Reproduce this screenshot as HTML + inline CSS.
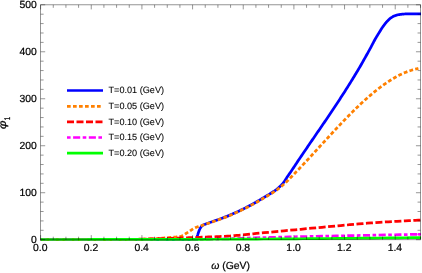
<!DOCTYPE html>
<html><head><meta charset="utf-8"><title>plot</title>
<style>html,body{margin:0;padding:0;background:#fff;}body{width:422px;height:273px;overflow:hidden;position:relative;font-family:"Liberation Sans",sans-serif;}</style>
</head><body>
<svg width="422" height="273" viewBox="0 0 422 273" style="position:absolute;left:0;top:0;will-change:transform">
<defs><clipPath id="cp"><rect x="40" y="0" width="380.9" height="273"/></clipPath></defs>
<g fill="none" stroke-linejoin="round" stroke-width="2.75" clip-path="url(#cp)">
<path d="M40.60 239.50 L44.47 239.50 L49.35 239.50 L55.09 239.50 L61.53 239.50 L68.53 239.50 L75.92 239.50 L83.56 239.50 L91.29 239.50 L98.95 239.50 L106.39 239.50 L113.46 239.50 L120.00 239.50 L126.37 239.50 L132.96 239.50 L139.68 239.50 L146.42 239.50 L153.10 239.51 L159.62 239.51 L165.89 239.51 L171.80 239.51 L177.26 239.51 L182.18 239.51 L186.46 239.50 L190.00 239.50 L192.73 239.50 L194.69 239.50 L195.99 239.51 L196.74 239.51 L197.05 239.52 L197.01 239.53 L196.73 239.52 L196.31 239.52 L195.87 239.50 L195.50 239.48 L195.31 239.45 L195.40 239.40 L195.64 239.34 L195.83 239.28 L195.98 239.21 L196.09 239.14 L196.17 239.06 L196.23 238.97 L196.27 238.87 L196.30 238.76 L196.33 238.64 L196.37 238.51 L196.43 238.36 L196.50 238.20 L196.59 238.03 L196.67 237.84 L196.75 237.63 L196.83 237.41 L196.91 237.19 L196.99 236.95 L197.07 236.70 L197.16 236.45 L197.24 236.19 L197.32 235.93 L197.41 235.67 L197.50 235.40 L197.59 235.13 L197.69 234.84 L197.78 234.55 L197.88 234.25 L197.98 233.94 L198.08 233.63 L198.18 233.32 L198.28 233.01 L198.38 232.70 L198.49 232.39 L198.59 232.09 L198.70 231.80 L198.81 231.51 L198.92 231.22 L199.03 230.93 L199.15 230.64 L199.26 230.35 L199.38 230.06 L199.50 229.78 L199.62 229.51 L199.74 229.24 L199.86 228.98 L199.98 228.74 L200.10 228.50 L200.22 228.28 L200.34 228.06 L200.47 227.85 L200.59 227.65 L200.71 227.46 L200.84 227.28 L200.96 227.10 L201.09 226.93 L201.22 226.76 L201.34 226.60 L201.47 226.45 L201.60 226.30 L201.73 226.16 L201.86 226.02 L201.99 225.90 L202.12 225.78 L202.25 225.66 L202.38 225.56 L202.51 225.45 L202.65 225.36 L202.78 225.26 L202.92 225.17 L203.06 225.08 L203.20 225.00 L203.34 224.92 L203.47 224.85 L203.61 224.79 L203.74 224.74 L203.88 224.69 L204.01 224.64 L204.15 224.59 L204.30 224.54 L204.46 224.49 L204.63 224.43 L204.81 224.37 L205.00 224.30 L205.15 224.24 L205.21 224.22 L205.22 224.22 L205.21 224.22 L205.20 224.22 L205.24 224.21 L205.34 224.17 L205.55 224.10 L205.89 223.98 L206.39 223.79 L207.08 223.54 L208.00 223.20 L209.17 222.77 L210.59 222.27 L212.21 221.70 L214.00 221.07 L215.92 220.40 L217.94 219.68 L220.01 218.94 L222.11 218.17 L224.20 217.39 L226.23 216.62 L228.18 215.85 L230.00 215.10 L231.75 214.35 L233.51 213.57 L235.26 212.78 L237.01 211.97 L238.74 211.15 L240.46 210.33 L242.14 209.50 L243.80 208.67 L245.42 207.86 L247.00 207.05 L248.53 206.27 L250.00 205.50 L251.42 204.75 L252.81 204.00 L254.15 203.25 L255.46 202.51 L256.72 201.77 L257.96 201.05 L259.16 200.34 L260.32 199.64 L261.46 198.95 L262.57 198.28 L263.65 197.63 L264.70 197.00 L265.73 196.39 L266.73 195.79 L267.71 195.20 L268.66 194.63 L269.57 194.07 L270.46 193.53 L271.31 193.00 L272.12 192.49 L272.90 192.00 L273.64 191.52 L274.34 191.05 L275.00 190.60 L275.61 190.17 L276.16 189.77 L276.66 189.39 L277.11 189.02 L277.54 188.67 L277.93 188.34 L278.29 188.01 L278.64 187.69 L278.98 187.37 L279.31 187.05 L279.65 186.73 L280.00 186.40 L280.35 186.07 L280.67 185.76 L280.99 185.45 L281.29 185.14 L281.58 184.84 L281.86 184.54 L282.14 184.23 L282.41 183.93 L282.68 183.61 L282.95 183.29 L283.22 182.95 L283.50 182.60 L283.76 182.25 L284.00 181.93 L284.22 181.61 L284.44 181.30 L284.65 180.97 L284.86 180.64 L285.09 180.28 L285.34 179.88 L285.62 179.45 L285.93 178.96 L286.29 178.41 L286.70 177.80 L287.17 177.10 L287.69 176.33 L288.27 175.48 L288.88 174.58 L289.52 173.63 L290.17 172.66 L290.84 171.68 L291.51 170.69 L292.17 169.71 L292.81 168.77 L293.42 167.86 L294.00 167.00 L294.53 166.21 L295.03 165.46 L295.50 164.76 L295.95 164.08 L296.39 163.41 L296.83 162.74 L297.28 162.06 L297.75 161.36 L298.25 160.61 L298.78 159.81 L299.36 158.94 L300.00 158.00 L300.69 156.97 L301.44 155.88 L302.22 154.72 L303.04 153.52 L303.88 152.27 L304.75 151.00 L305.63 149.71 L306.52 148.40 L307.41 147.10 L308.29 145.81 L309.15 144.54 L310.00 143.30 L310.83 142.08 L311.67 140.86 L312.50 139.65 L313.33 138.43 L314.17 137.21 L315.00 136.00 L315.83 134.79 L316.67 133.57 L317.50 132.35 L318.33 131.14 L319.17 129.92 L320.00 128.70 L320.83 127.48 L321.67 126.26 L322.50 125.04 L323.33 123.82 L324.17 122.60 L325.00 121.38 L325.83 120.16 L326.67 118.93 L327.50 117.71 L328.33 116.47 L329.17 115.24 L330.00 114.00 L330.83 112.76 L331.67 111.51 L332.50 110.27 L333.33 109.02 L334.17 107.77 L335.00 106.51 L335.83 105.25 L336.67 103.99 L337.50 102.73 L338.33 101.46 L339.17 100.18 L340.00 98.90 L340.83 97.62 L341.67 96.33 L342.50 95.04 L343.33 93.74 L344.17 92.44 L345.00 91.14 L345.83 89.83 L346.67 88.51 L347.50 87.20 L348.33 85.87 L349.17 84.54 L350.00 83.20 L350.83 81.86 L351.67 80.51 L352.50 79.16 L353.33 77.81 L354.17 76.45 L355.00 75.08 L355.83 73.71 L356.67 72.33 L357.50 70.94 L358.33 69.53 L359.17 68.12 L360.00 66.70 L360.85 65.24 L361.72 63.71 L362.62 62.14 L363.52 60.55 L364.42 58.95 L365.31 57.36 L366.19 55.79 L367.04 54.26 L367.85 52.79 L368.62 51.40 L369.34 50.09 L370.00 48.90 L370.59 47.82 L371.11 46.85 L371.58 45.97 L372.00 45.16 L372.39 44.41 L372.75 43.71 L373.10 43.03 L373.44 42.36 L373.80 41.69 L374.17 41.00 L374.56 40.27 L375.00 39.50 L375.47 38.68 L375.98 37.82 L376.50 36.93 L377.04 36.03 L377.58 35.13 L378.12 34.24 L378.66 33.36 L379.19 32.51 L379.69 31.70 L380.16 30.94 L380.60 30.23 L381.00 29.60 L381.36 29.04 L381.67 28.54 L381.96 28.09 L382.23 27.70 L382.47 27.34 L382.69 27.01 L382.91 26.70 L383.12 26.40 L383.33 26.11 L383.54 25.82 L383.76 25.52 L384.00 25.20 L384.24 24.87 L384.47 24.56 L384.70 24.25 L384.92 23.96 L385.14 23.66 L385.36 23.38 L385.59 23.09 L385.83 22.80 L386.07 22.51 L386.33 22.21 L386.61 21.91 L386.90 21.60 L387.21 21.28 L387.53 20.94 L387.86 20.60 L388.20 20.24 L388.56 19.89 L388.92 19.54 L389.29 19.19 L389.67 18.84 L390.07 18.51 L390.47 18.19 L390.88 17.89 L391.30 17.60 L391.73 17.33 L392.17 17.07 L392.61 16.81 L393.07 16.57 L393.54 16.34 L394.01 16.11 L394.50 15.90 L395.00 15.70 L395.50 15.50 L396.02 15.32 L396.56 15.16 L397.10 15.00 L397.66 14.86 L398.24 14.73 L398.84 14.62 L399.44 14.52 L400.06 14.43 L400.69 14.35 L401.33 14.28 L401.97 14.21 L402.61 14.16 L403.24 14.10 L403.87 14.05 L404.50 14.00 L405.11 13.95 L405.72 13.92 L406.31 13.89 L406.90 13.87 L407.49 13.85 L408.09 13.84 L408.69 13.83 L409.31 13.82 L409.95 13.82 L410.60 13.81 L411.29 13.81 L412.00 13.80 L412.78 13.79 L413.64 13.79 L414.56 13.79 L415.52 13.79 L416.50 13.79 L417.47 13.79 L418.42 13.79 L419.31 13.79 L420.14 13.80 L420.88 13.80 L421.51 13.80 L422.00 13.80" stroke="#0000ff"/>
<path d="M40.60 239.50 L44.87 239.50 L50.47 239.51 L57.16 239.51 L64.68 239.52 L72.79 239.53 L81.24 239.54 L89.77 239.54 L98.14 239.54 L106.10 239.54 L113.39 239.53 L119.78 239.52 L125.00 239.50 L129.21 239.47 L132.78 239.43 L135.78 239.39 L138.29 239.34 L140.39 239.29 L142.15 239.24 L143.65 239.18 L144.98 239.12 L146.20 239.06 L147.39 239.01 L148.63 238.95 L150.00 238.90 L151.36 238.85 L152.56 238.80 L153.60 238.75 L154.52 238.70 L155.33 238.66 L156.06 238.61 L156.73 238.56 L157.37 238.51 L157.99 238.46 L158.62 238.41 L159.28 238.35 L160.00 238.30 L160.74 238.24 L161.45 238.19 L162.14 238.13 L162.81 238.07 L163.48 238.01 L164.12 237.95 L164.77 237.89 L165.41 237.83 L166.05 237.77 L166.69 237.71 L167.34 237.66 L168.00 237.60 L168.67 237.55 L169.36 237.50 L170.06 237.45 L170.76 237.41 L171.45 237.36 L172.15 237.32 L172.84 237.27 L173.51 237.23 L174.17 237.18 L174.81 237.12 L175.42 237.06 L176.00 237.00 L176.55 236.94 L177.06 236.89 L177.55 236.85 L178.01 236.80 L178.45 236.76 L178.89 236.71 L179.32 236.64 L179.75 236.56 L180.19 236.46 L180.64 236.34 L181.11 236.19 L181.60 236.00 L182.11 235.78 L182.64 235.52 L183.18 235.24 L183.73 234.93 L184.28 234.60 L184.84 234.25 L185.40 233.89 L185.96 233.53 L186.53 233.16 L187.09 232.80 L187.65 232.44 L188.20 232.10 L188.75 231.75 L189.30 231.40 L189.85 231.03 L190.40 230.65 L190.94 230.28 L191.49 229.90 L192.04 229.53 L192.59 229.17 L193.14 228.82 L193.69 228.49 L194.25 228.18 L194.80 227.90 L195.36 227.64 L195.91 227.41 L196.47 227.19 L197.03 226.99 L197.59 226.80 L198.16 226.63 L198.72 226.46 L199.28 226.29 L199.84 226.12 L200.39 225.96 L200.95 225.78 L201.50 225.60 L202.00 225.43 L202.42 225.29 L202.78 225.18 L203.11 225.07 L203.44 224.97 L203.79 224.86 L204.20 224.72 L204.69 224.56 L205.29 224.36 L206.02 224.10 L206.92 223.79 L208.00 223.40 L209.30 222.94 L210.79 222.42 L212.46 221.84 L214.26 221.22 L216.17 220.55 L218.16 219.86 L220.19 219.13 L222.24 218.39 L224.28 217.64 L226.27 216.89 L228.19 216.14 L230.00 215.40 L231.75 214.66 L233.51 213.89 L235.26 213.10 L237.01 212.30 L238.74 211.49 L240.46 210.67 L242.14 209.86 L243.80 209.04 L245.42 208.23 L247.00 207.44 L248.53 206.66 L250.00 205.90 L251.42 205.15 L252.81 204.41 L254.15 203.67 L255.46 202.94 L256.72 202.22 L257.96 201.50 L259.16 200.80 L260.32 200.10 L261.46 199.43 L262.57 198.77 L263.65 198.12 L264.70 197.50 L265.73 196.89 L266.73 196.30 L267.71 195.72 L268.66 195.15 L269.57 194.59 L270.46 194.06 L271.31 193.53 L272.12 193.03 L272.90 192.54 L273.64 192.08 L274.34 191.63 L275.00 191.20 L275.60 190.80 L276.14 190.44 L276.62 190.11 L277.06 189.80 L277.46 189.50 L277.83 189.22 L278.19 188.95 L278.53 188.68 L278.87 188.41 L279.23 188.12 L279.60 187.82 L280.00 187.50 L280.42 187.16 L280.83 186.83 L281.25 186.48 L281.67 186.13 L282.08 185.78 L282.50 185.42 L282.92 185.06 L283.33 184.70 L283.75 184.33 L284.17 183.96 L284.58 183.58 L285.00 183.20 L285.41 182.82 L285.82 182.43 L286.23 182.05 L286.63 181.66 L287.03 181.27 L287.44 180.87 L287.85 180.47 L288.26 180.06 L288.68 179.64 L289.11 179.20 L289.55 178.76 L290.00 178.30 L290.47 177.82 L290.97 177.31 L291.48 176.77 L292.00 176.22 L292.53 175.66 L293.06 175.10 L293.59 174.54 L294.11 173.99 L294.62 173.45 L295.10 172.94 L295.57 172.45 L296.00 172.00 L296.38 171.60 L296.71 171.27 L297.00 170.97 L297.26 170.71 L297.50 170.47 L297.75 170.22 L298.01 169.96 L298.30 169.67 L298.62 169.34 L299.01 168.94 L299.46 168.47 L300.00 167.90 L300.62 167.24 L301.32 166.50 L302.08 165.69 L302.89 164.83 L303.74 163.92 L304.62 162.97 L305.53 162.01 L306.44 161.03 L307.36 160.04 L308.26 159.07 L309.15 158.12 L310.00 157.20 L310.83 156.30 L311.67 155.39 L312.50 154.49 L313.33 153.58 L314.17 152.67 L315.00 151.76 L315.83 150.85 L316.67 149.94 L317.50 149.03 L318.33 148.12 L319.17 147.21 L320.00 146.30 L320.83 145.39 L321.67 144.48 L322.50 143.57 L323.33 142.66 L324.17 141.75 L325.00 140.84 L325.83 139.93 L326.67 139.02 L327.50 138.11 L328.33 137.21 L329.17 136.30 L330.00 135.40 L330.83 134.50 L331.67 133.60 L332.50 132.70 L333.33 131.80 L334.17 130.91 L335.00 130.01 L335.83 129.12 L336.67 128.23 L337.50 127.34 L338.33 126.46 L339.17 125.58 L340.00 124.70 L340.83 123.83 L341.67 122.95 L342.50 122.09 L343.33 121.22 L344.17 120.35 L345.00 119.49 L345.83 118.64 L346.67 117.78 L347.50 116.93 L348.33 116.08 L349.17 115.24 L350.00 114.40 L350.83 113.56 L351.67 112.73 L352.50 111.90 L353.33 111.07 L354.17 110.24 L355.00 109.42 L355.83 108.60 L356.67 107.79 L357.50 106.98 L358.33 106.18 L359.17 105.39 L360.00 104.60 L360.83 103.82 L361.67 103.04 L362.50 102.27 L363.33 101.51 L364.17 100.75 L365.00 99.99 L365.83 99.25 L366.67 98.50 L367.50 97.77 L368.33 97.04 L369.17 96.32 L370.00 95.60 L370.83 94.89 L371.67 94.19 L372.50 93.49 L373.33 92.79 L374.17 92.11 L375.00 91.42 L375.83 90.75 L376.67 90.09 L377.50 89.43 L378.33 88.78 L379.17 88.13 L380.00 87.50 L380.83 86.87 L381.67 86.25 L382.50 85.64 L383.33 85.04 L384.17 84.44 L385.00 83.85 L385.83 83.27 L386.67 82.70 L387.50 82.13 L388.33 81.58 L389.17 81.03 L390.00 80.50 L390.83 79.97 L391.67 79.46 L392.50 78.95 L393.33 78.44 L394.17 77.95 L395.00 77.47 L395.83 77.00 L396.67 76.53 L397.50 76.08 L398.33 75.64 L399.17 75.21 L400.00 74.80 L400.84 74.40 L401.69 74.00 L402.54 73.62 L403.39 73.25 L404.25 72.89 L405.10 72.54 L405.95 72.20 L406.79 71.87 L407.61 71.56 L408.43 71.26 L409.22 70.97 L410.00 70.70 L410.78 70.44 L411.59 70.19 L412.41 69.94 L413.23 69.71 L414.04 69.50 L414.82 69.29 L415.58 69.10 L416.28 68.93 L416.93 68.77 L417.50 68.63 L418.00 68.51 L418.40 68.40" stroke="#ff8000" stroke-dasharray="3.8 2.2" stroke-dashoffset="-1"/>
<path d="M40.60 239.50 L44.59 239.50 L49.81 239.51 L56.03 239.51 L63.01 239.52 L70.56 239.53 L78.42 239.54 L86.40 239.54 L94.25 239.54 L101.76 239.54 L108.71 239.53 L114.86 239.52 L120.00 239.50 L124.26 239.47 L127.97 239.43 L131.21 239.39 L134.03 239.34 L136.51 239.29 L138.71 239.24 L140.71 239.18 L142.57 239.12 L144.36 239.06 L146.15 239.01 L148.01 238.95 L150.00 238.90 L152.02 238.85 L153.91 238.80 L155.70 238.75 L157.41 238.70 L159.04 238.65 L160.62 238.60 L162.17 238.55 L163.70 238.50 L165.23 238.45 L166.78 238.40 L168.37 238.35 L170.00 238.30 L171.70 238.25 L173.45 238.20 L175.23 238.15 L177.04 238.09 L178.84 238.04 L180.62 237.99 L182.38 237.94 L184.07 237.89 L185.70 237.84 L187.25 237.79 L188.68 237.74 L190.00 237.70 L191.12 237.66 L192.01 237.63 L192.73 237.61 L193.33 237.59 L193.86 237.56 L194.38 237.54 L194.92 237.52 L195.56 237.49 L196.33 237.46 L197.29 237.42 L198.50 237.36 L200.00 237.30 L201.80 237.23 L203.84 237.15 L206.09 237.08 L208.52 236.99 L211.08 236.90 L213.75 236.81 L216.49 236.70 L219.26 236.59 L222.03 236.46 L224.77 236.32 L227.44 236.17 L230.00 236.00 L232.40 235.82 L234.63 235.64 L236.75 235.46 L238.81 235.26 L240.88 235.05 L243.00 234.83 L245.23 234.59 L247.63 234.34 L250.25 234.07 L253.15 233.77 L256.38 233.45 L260.00 233.10 L264.07 232.71 L268.58 232.29 L273.45 231.83 L278.61 231.34 L284.00 230.83 L289.53 230.31 L295.15 229.79 L300.78 229.26 L306.35 228.74 L311.79 228.24 L317.03 227.75 L322.00 227.30 L326.78 226.86 L331.51 226.43 L336.17 226.00 L340.78 225.57 L345.32 225.15 L349.81 224.74 L354.24 224.35 L358.61 223.96 L362.92 223.59 L367.17 223.24 L371.37 222.91 L375.50 222.60 L379.68 222.31 L383.98 222.03 L388.34 221.76 L392.70 221.51 L397.00 221.28 L401.19 221.06 L405.19 220.86 L408.96 220.67 L412.44 220.50 L415.56 220.35 L418.27 220.22 L420.50 220.10 L422.20 220.01 L423.41 219.94 L424.17 219.90 L424.57 219.89 L424.68 219.88 L424.56 219.89 L424.29 219.91 L423.93 219.94 L423.55 219.96 L423.22 219.98 L423.01 220.00 L423.00 220.00" stroke="#ff0000" stroke-dasharray="7 2.5" stroke-dashoffset="-3"/>
<path d="M40.60 239.50 L48.62 239.49 L59.09 239.49 L71.57 239.50 L85.61 239.50 L100.75 239.50 L116.55 239.50 L132.56 239.49 L148.33 239.48 L163.40 239.45 L177.34 239.42 L189.69 239.37 L200.00 239.30 L208.47 239.22 L215.73 239.11 L221.94 239.00 L227.29 238.87 L231.95 238.73 L236.09 238.58 L239.89 238.43 L243.53 238.28 L247.19 238.13 L251.03 237.98 L255.25 237.83 L260.00 237.70 L265.01 237.57 L269.92 237.45 L274.75 237.32 L279.56 237.20 L284.38 237.08 L289.25 236.96 L294.22 236.83 L299.33 236.71 L304.62 236.59 L310.14 236.46 L315.92 236.33 L322.00 236.20 L328.67 236.06 L336.08 235.91 L344.02 235.75 L352.33 235.59 L360.82 235.43 L369.31 235.27 L377.62 235.11 L385.56 234.96 L392.95 234.82 L399.60 234.70 L405.35 234.59 L410.00 234.50 L413.54 234.43 L416.18 234.38 L418.02 234.34 L419.19 234.31 L419.81 234.30 L420.00 234.29 L419.89 234.29 L419.59 234.30 L419.23 234.30 L418.94 234.30 L418.82 234.30 L419.00 234.30" stroke="#ff00ff" stroke-dasharray="3.6 2.5 7.1 2.5" stroke-dashoffset="-2.3"/>
<path d="M40.60 239.50 L46.46 239.50 L53.93 239.49 L62.74 239.49 L72.64 239.48 L83.37 239.48 L94.68 239.47 L106.29 239.46 L117.96 239.45 L129.42 239.44 L140.42 239.43 L150.70 239.42 L160.00 239.40 L168.56 239.38 L176.82 239.37 L184.80 239.35 L192.55 239.33 L200.09 239.30 L207.46 239.28 L214.70 239.26 L221.83 239.23 L228.89 239.20 L235.92 239.17 L242.94 239.14 L250.00 239.10 L256.98 239.06 L263.77 239.02 L270.42 238.98 L276.96 238.93 L283.43 238.89 L289.88 238.84 L296.32 238.79 L302.81 238.73 L309.39 238.68 L316.09 238.62 L322.95 238.56 L330.00 238.50 L337.54 238.43 L345.70 238.36 L354.31 238.28 L363.19 238.19 L372.14 238.10 L381.00 238.01 L389.58 237.93 L397.70 237.84 L405.19 237.77 L411.85 237.70 L417.52 237.64 L422.00 237.60" stroke="#00ff00" stroke-width="2.7"/>
</g>
<g stroke="#000" stroke-opacity="0.52" stroke-width="0.8" fill="none">
<rect x="40.60" y="4.80" width="379.95" height="234.90"/>
<path d="M40.60 239.70v-4.6M40.60 4.80v4.6M53.27 239.70v-3.0M53.27 4.80v3.0M65.93 239.70v-3.0M65.93 4.80v3.0M78.59 239.70v-3.0M78.59 4.80v3.0M91.26 239.70v-4.6M91.26 4.80v4.6M103.92 239.70v-3.0M103.92 4.80v3.0M116.59 239.70v-3.0M116.59 4.80v3.0M129.25 239.70v-3.0M129.25 4.80v3.0M141.92 239.70v-4.6M141.92 4.80v4.6M154.59 239.70v-3.0M154.59 4.80v3.0M167.25 239.70v-3.0M167.25 4.80v3.0M179.91 239.70v-3.0M179.91 4.80v3.0M192.58 239.70v-4.6M192.58 4.80v4.6M205.24 239.70v-3.0M205.24 4.80v3.0M217.91 239.70v-3.0M217.91 4.80v3.0M230.57 239.70v-3.0M230.57 4.80v3.0M243.24 239.70v-4.6M243.24 4.80v4.6M255.91 239.70v-3.0M255.91 4.80v3.0M268.57 239.70v-3.0M268.57 4.80v3.0M281.24 239.70v-3.0M281.24 4.80v3.0M293.90 239.70v-4.6M293.90 4.80v4.6M306.56 239.70v-3.0M306.56 4.80v3.0M319.23 239.70v-3.0M319.23 4.80v3.0M331.90 239.70v-3.0M331.90 4.80v3.0M344.56 239.70v-4.6M344.56 4.80v4.6M357.23 239.70v-3.0M357.23 4.80v3.0M369.89 239.70v-3.0M369.89 4.80v3.0M382.56 239.70v-3.0M382.56 4.80v3.0M395.22 239.70v-4.6M395.22 4.80v4.6M407.89 239.70v-3.0M407.89 4.80v3.0M420.55 239.70v-3.0M420.55 4.80v3.0M40.60 239.70h4.6M420.55 239.70h-4.6M40.60 230.30h3.0M420.55 230.30h-3.0M40.60 220.91h3.0M420.55 220.91h-3.0M40.60 211.51h3.0M420.55 211.51h-3.0M40.60 202.12h3.0M420.55 202.12h-3.0M40.60 192.72h4.6M420.55 192.72h-4.6M40.60 183.32h3.0M420.55 183.32h-3.0M40.60 173.93h3.0M420.55 173.93h-3.0M40.60 164.53h3.0M420.55 164.53h-3.0M40.60 155.14h3.0M420.55 155.14h-3.0M40.60 145.74h4.6M420.55 145.74h-4.6M40.60 136.34h3.0M420.55 136.34h-3.0M40.60 126.95h3.0M420.55 126.95h-3.0M40.60 117.55h3.0M420.55 117.55h-3.0M40.60 108.16h3.0M420.55 108.16h-3.0M40.60 98.76h4.6M420.55 98.76h-4.6M40.60 89.36h3.0M420.55 89.36h-3.0M40.60 79.97h3.0M420.55 79.97h-3.0M40.60 70.57h3.0M420.55 70.57h-3.0M40.60 61.18h3.0M420.55 61.18h-3.0M40.60 51.78h4.6M420.55 51.78h-4.6M40.60 42.38h3.0M420.55 42.38h-3.0M40.60 32.99h3.0M420.55 32.99h-3.0M40.60 23.59h3.0M420.55 23.59h-3.0M40.60 14.20h3.0M420.55 14.20h-3.0M40.60 4.80h4.6M420.55 4.80h-4.6"/>
</g>
<g fill="none" stroke-width="2.7">
<path d="M67 90.5H103" stroke="#0000ff"/>
<path d="M67 106.3H103" stroke="#ff8000" stroke-dasharray="3.7 2.3"/>
<path d="M67 121.9H103" stroke="#ff0000" stroke-dasharray="7 2.5"/>
<path d="M67 137.5H103" stroke="#ff00ff" stroke-dasharray="3.6 2.5 7.1 2.5"/>
<path d="M67 153.05H103" stroke="#00ff00"/>
</g>
<g font-family="Liberation Sans, sans-serif" fill="#000" text-rendering="geometricPrecision" stroke="#000" stroke-width="0.22">
<text x="108.5" y="93.40" font-size="9.15" stroke-width="0.08">T=0.01 (GeV)</text>
<text x="108.5" y="109.20" font-size="9.15" stroke-width="0.08">T=0.05 (GeV)</text>
<text x="108.5" y="124.80" font-size="9.15" stroke-width="0.08">T=0.10 (GeV)</text>
<text x="108.5" y="140.40" font-size="9.15" stroke-width="0.08">T=0.15 (GeV)</text>
<text x="108.5" y="155.95" font-size="9.15" stroke-width="0.08">T=0.20 (GeV)</text>
<text x="36.8" y="242.70" font-size="10.4" text-anchor="end">0</text>
<text x="36.8" y="195.72" font-size="10.4" text-anchor="end">100</text>
<text x="36.8" y="148.74" font-size="10.4" text-anchor="end">200</text>
<text x="36.8" y="101.76" font-size="10.4" text-anchor="end">300</text>
<text x="36.8" y="54.78" font-size="10.4" text-anchor="end">400</text>
<text x="36.8" y="7.80" font-size="10.4" text-anchor="end">500</text>
<text x="40.30" y="251.3" font-size="10.4" text-anchor="middle">0.0</text>
<text x="90.96" y="251.3" font-size="10.4" text-anchor="middle">0.2</text>
<text x="141.62" y="251.3" font-size="10.4" text-anchor="middle">0.4</text>
<text x="192.28" y="251.3" font-size="10.4" text-anchor="middle">0.6</text>
<text x="242.94" y="251.3" font-size="10.4" text-anchor="middle">0.8</text>
<text x="293.60" y="251.3" font-size="10.4" text-anchor="middle">1.0</text>
<text x="344.26" y="251.3" font-size="10.4" text-anchor="middle">1.2</text>
<text x="394.92" y="251.3" font-size="10.4" text-anchor="middle">1.4</text>
<text x="230.6" y="269.3" font-size="10.4" text-anchor="middle"><tspan font-style="italic">ω</tspan> (GeV)</text>
<g transform="translate(6.0 124.9) rotate(-90)"><text transform="scale(1.3 1)" font-size="10.4" text-anchor="middle" font-style="italic">φ</text><text transform="translate(4.6 3.6) scale(0.75 1)" font-size="8.2">1</text></g>
</g>
</svg>
</body></html>
